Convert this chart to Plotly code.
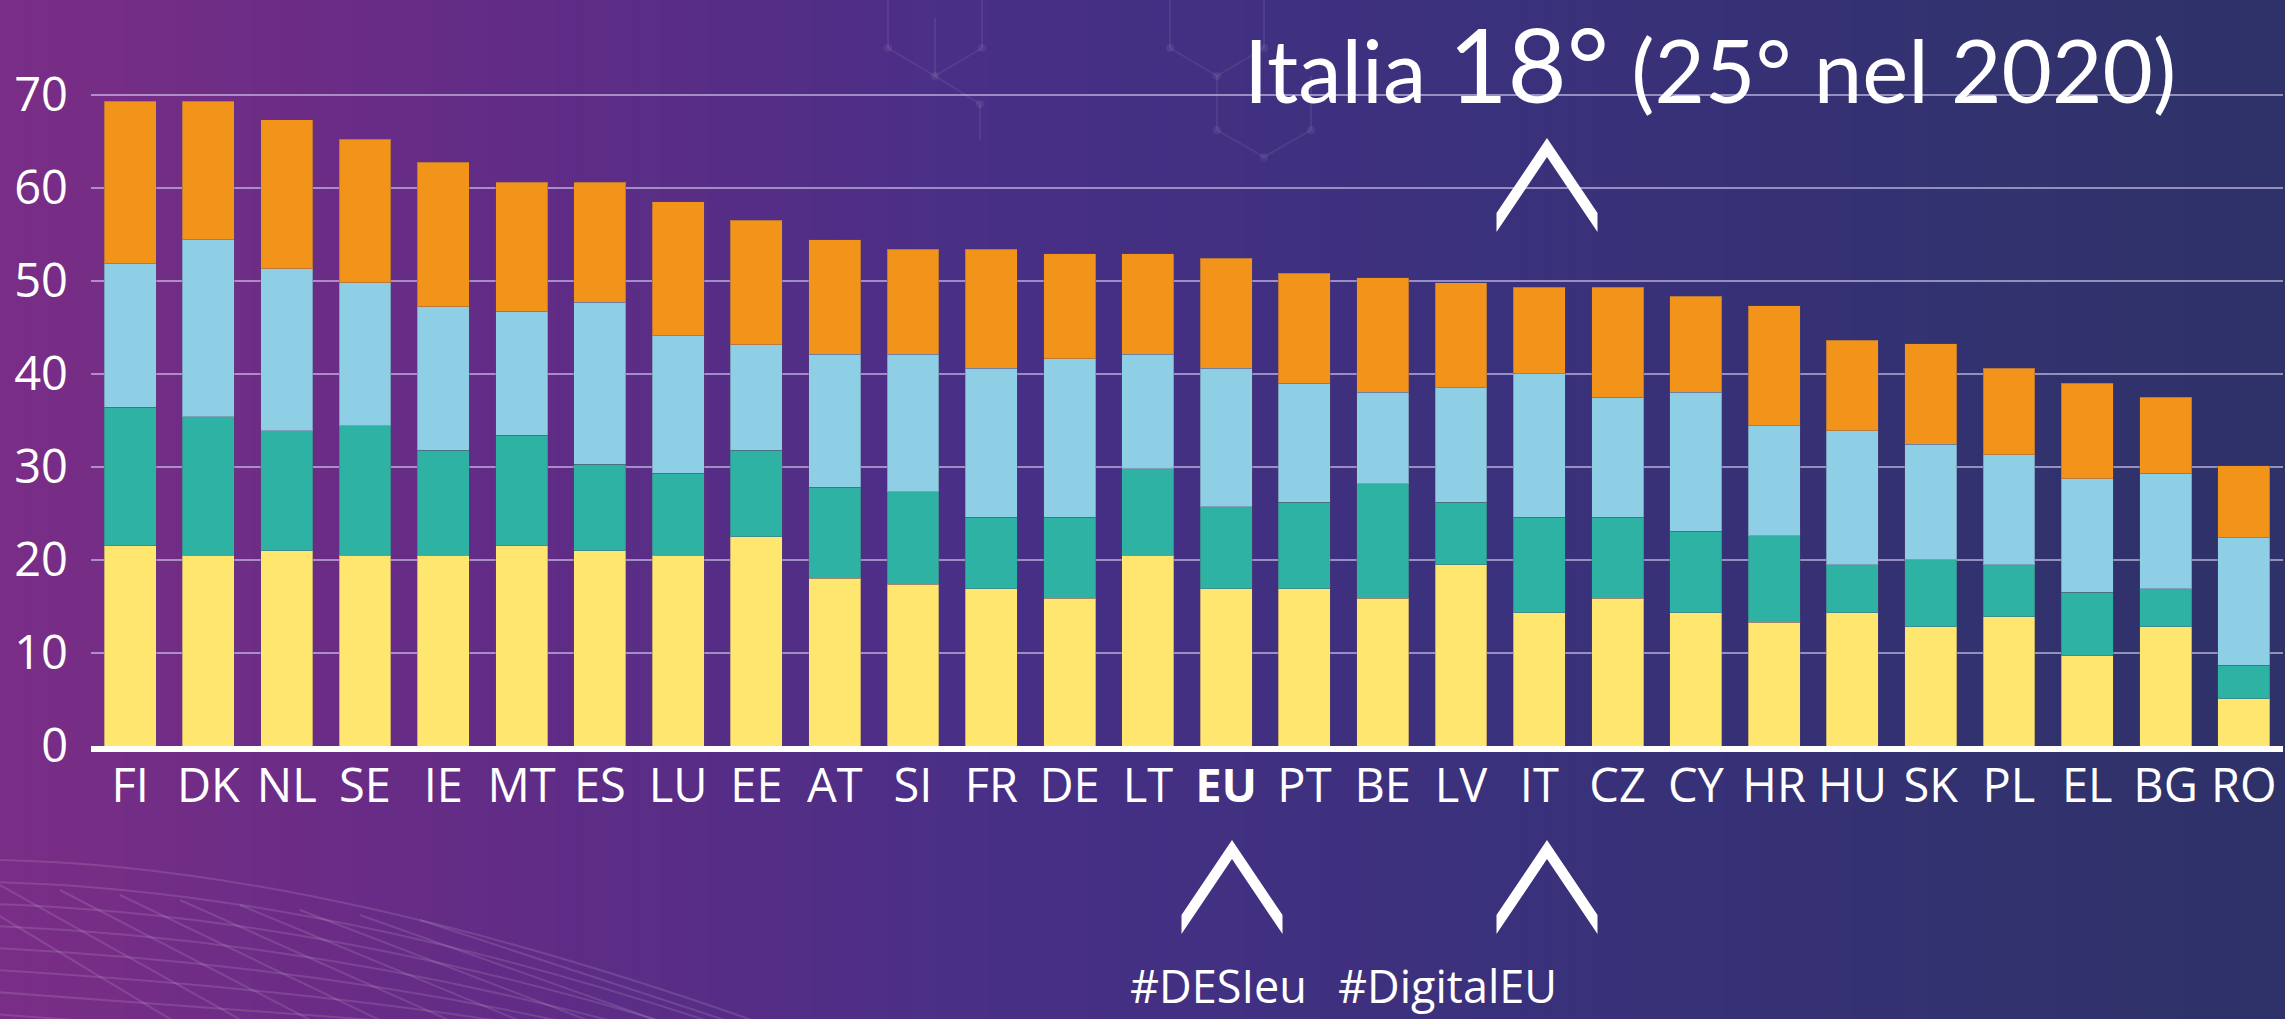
import plotly.graph_objects as go

# ---------------- data ----------------
countries = ["FI", "DK", "NL", "SE", "IE", "MT", "ES", "LU", "EE", "AT", "SI", "FR", "DE", "LT",
             "EU", "PT", "BE", "LV", "IT", "CZ", "CY", "HR", "HU", "SK", "PL", "EL", "BG", "RO"]
tick_labels = ["<b>EU</b>" if c == "EU" else c for c in countries]

human_capital = [21.5, 20.5, 21.0, 20.5, 20.5, 21.5, 21.0, 20.5, 22.5, 18.0, 17.4, 16.9, 15.9, 20.5,
                 16.9, 16.9, 15.9, 19.5, 14.3, 15.9, 14.3, 13.3, 14.3, 12.8, 13.9, 9.7, 12.8, 5.1]
connectivity = [14.9, 14.9, 12.9, 13.9, 11.3, 11.9, 9.3, 8.8, 9.3, 9.8, 9.9, 7.7, 8.7, 9.3,
                8.8, 9.3, 12.3, 6.7, 10.3, 8.7, 8.8, 9.3, 5.2, 7.2, 5.6, 6.8, 4.1, 3.6]
integration = [15.4, 19.0, 17.4, 15.4, 15.4, 13.3, 17.4, 14.8, 11.3, 14.3, 14.8, 16.0, 17.0, 12.3,
               14.9, 12.8, 9.8, 12.3, 15.4, 12.9, 14.9, 11.8, 14.4, 12.4, 11.8, 12.2, 12.4, 13.7]
public_services = [17.5, 14.9, 16.0, 15.4, 15.5, 13.9, 12.9, 14.4, 13.4, 12.3, 11.3, 12.8, 11.3, 10.8,
                   11.8, 11.8, 12.3, 11.3, 9.3, 11.8, 10.3, 12.9, 9.7, 10.8, 9.3, 10.3, 8.2, 7.7]

series_names = ["Capitale umano", "Connettività", "Integrazione delle tecnologie digitali",
                "Servizi pubblici digitali"]
series_values = [human_capital, connectivity, integration, public_services]
series_colors = ["#FFE66E", "#2EB2A4", "#8FCFE6", "#F29419"]
y_ticks = [0, 10, 20, 30, 40, 50, 60, 70]

# ---------------- geometry ----------------
W, H = 2285, 1019
ML, MR, MT, MB = 91, 2, 48, 273
PW, PH = W - ML - MR, H - MT - MB
BOTTOM = H - MB


def px(xp):
    return (xp - ML) / PW


def py(yp):
    return (BOTTOM - yp) / PH


fig = go.Figure()
for name, vals, col in zip(series_names, series_values, series_colors):
    fig.add_trace(go.Bar(
        x=countries, y=vals, name=name,
        marker=dict(color=col, line=dict(color="rgba(90,70,110,0.35)", width=1)),
        showlegend=False,
    ))

shapes = []
# background gradient (decorative)
stops = [(0, (122, 45, 134)), (500, (98, 44, 134)), (1000, (72, 47, 134)),
         (1500, (58, 49, 124)), (2285, (46, 50, 104))]


def col_at(x):
    for (x0, c0), (x1, c1) in zip(stops[:-1], stops[1:]):
        if x0 <= x <= x1:
            t = (x - x0) / (x1 - x0)
            return tuple(int(round(a + (b - a) * t)) for a, b in zip(c0, c1))
    return stops[-1][1]


nstrip = 90
sw = W / nstrip
for i in range(nstrip):
    x0 = i * sw
    c = col_at(x0 + sw / 2)
    shapes.append(dict(type="rect", xref="paper", yref="paper",
                       x0=px(x0 - 1), x1=px(x0 + sw + 1), y0=py(H + 2), y1=py(-2),
                       fillcolor="rgb(%d,%d,%d)" % c, line=dict(width=0), layer="below"))

# faint decorative network (top) and mesh (bottom-left)
deco = "rgba(255,255,255,0.07)"
net_lines = [((888, 0), (888, 48)), ((888, 48), (935, 76)), ((935, 76), (982, 48)), ((982, 0), (982, 48)),
             ((935, 76), (935, 18)), ((1170, 0), (1170, 48)), ((1170, 48), (1217, 76)),
             ((1217, 76), (1264, 48)), ((1264, 0), (1264, 48)), ((1217, 76), (1217, 130)),
             ((1217, 130), (1264, 157)), ((1264, 157), (1311, 130)), ((1311, 130), (1311, 76)),
             ((935, 76), (980, 104)), ((980, 104), (980, 140))]
for (a, b), (c, d) in net_lines:
    shapes.append(dict(type="line", xref="paper", yref="paper", x0=px(a), y0=py(b), x1=px(c), y1=py(d),
                       line=dict(color=deco, width=2), layer="below"))
for (a, b) in [(888, 48), (935, 76), (982, 48), (1170, 48), (1217, 76), (1264, 48), (1217, 130),
               (1264, 157), (1311, 130), (980, 104)]:
    shapes.append(dict(type="circle", xref="paper", yref="paper", x0=px(a - 4), x1=px(a + 4),
                       y0=py(b + 4), y1=py(b - 4), fillcolor=deco, line=dict(width=0), layer="below"))

mesh = "rgba(255,255,255,0.12)"
for k in range(8):
    y0 = 860 + k * 22
    shapes.append(dict(type="path", xref="paper", yref="paper", layer="below",
                       path="M %.5f,%.5f Q %.5f,%.5f %.5f,%.5f" % (
                           px(-5), py(y0), px(320), py(y0 + 5 + k * 3), px(780 - k * 45), py(1030)),
                       line=dict(color=mesh, width=2)))
for k in range(9):
    x0 = -60 + k * 60
    shapes.append(dict(type="line", xref="paper", yref="paper", layer="below",
                       x0=px(x0), y0=py(880 + k * 5), x1=px(x0 + 240 + k * 10), y1=py(1025),
                       line=dict(color=mesh, width=2)))


def chevron(cx, ytop):
    pts = [(cx - 50.5, ytop + 75), (cx, ytop), (cx + 50.5, ytop + 75),
           (cx + 50.5, ytop + 94), (cx, ytop + 19), (cx - 50.5, ytop + 94)]
    path = "M " + " L ".join("%.5f,%.5f" % (px(a), py(b)) for a, b in pts) + " Z"
    return dict(type="path", xref="paper", yref="paper", path=path,
                fillcolor="white", line=dict(width=0), layer="above")


shapes.append(chevron(1547, 138))
shapes.append(chevron(1232, 840))
shapes.append(chevron(1547, 840))

annotations = [
    dict(xref="paper", yref="paper", x=px(1242), y=py(0), xanchor="left", yanchor="top",
         text="Italia <span style='font-size:102px'>18°</span> (25° nel 2020)",
         showarrow=False, font=dict(family="Lato", size=87, color="white")),
    dict(xref="paper", yref="paper", x=px(1128), y=py(1018), xanchor="left", yanchor="bottom",
         text="#DESIeu", showarrow=False, font=dict(family="Open Sans", size=45, color="white")),
    dict(xref="paper", yref="paper", x=px(1336), y=py(1018), xanchor="left", yanchor="bottom",
         text="#DigitalEU", showarrow=False, font=dict(family="Open Sans", size=45, color="white")),
]

fig.update_layout(
    width=W, height=H,
    margin=dict(l=ML, r=MR, t=MT, b=MB, autoexpand=False),
    barmode="stack", bargap=0.336,
    paper_bgcolor="#4a2f86", plot_bgcolor="rgba(0,0,0,0)",
    shapes=shapes, annotations=annotations,
    font=dict(family="Open Sans", color="white"),
    xaxis=dict(type="category", tickmode="array", tickvals=countries, ticktext=tick_labels,
               showgrid=False, showline=True, linecolor="white", linewidth=6,
               tickfont=dict(family="Open Sans", size=47, color="white"),
               ticks="", ticklabelstandoff=-6, automargin=False),
    yaxis=dict(range=[0, 75], tickmode="array", tickvals=y_ticks,
               showgrid=True, gridcolor="rgba(215,205,240,0.6)", gridwidth=2,
               zeroline=False, showline=False, ticks="",
               tickfont=dict(family="Open Sans", size=47, color="white"),
               ticklabelstandoff=22, automargin=False),
)

fig.write_html(
    "out.html",
    config={"displayModeBar": False},
    post_script="document.body.style.margin='0';document.body.style.padding='0';"
                "document.body.style.overflow='hidden';",
)
